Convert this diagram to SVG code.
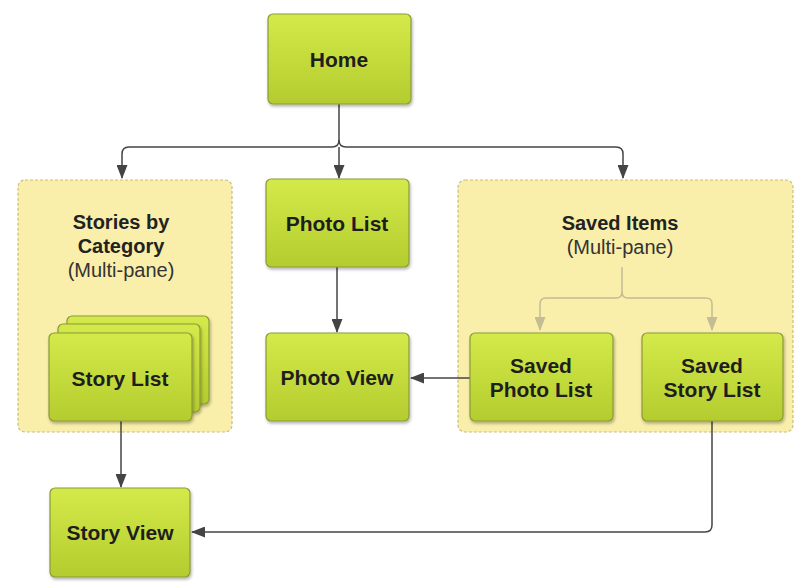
<svg xmlns="http://www.w3.org/2000/svg" width="810" height="585" viewBox="0 0 810 585">
<defs>
<linearGradient id="g" x1="0" y1="0" x2="0" y2="1">
<stop offset="0" stop-color="#d4ea4a"/>
<stop offset="1" stop-color="#b4cc2e"/>
</linearGradient>
<filter id="sh" x="-10%" y="-10%" width="125%" height="130%">
<feDropShadow dx="1" dy="2" stdDeviation="1.5" flood-color="#000" flood-opacity="0.3"/>
</filter>
<marker id="ah" markerWidth="14" markerHeight="11" refX="13" refY="5.5" orient="auto" markerUnits="userSpaceOnUse">
<path d="M0,0 L14,5.5 L0,11 Z" fill="#444"/>
</marker>
<marker id="ahl" markerWidth="14" markerHeight="11" refX="13" refY="5.5" orient="auto" markerUnits="userSpaceOnUse">
<path d="M0,0 L14,5.5 L0,11 Z" fill="#c4bc94"/>
</marker>
<style>
.node{fill:url(#g);stroke:#8a9a3a;stroke-width:1.2;filter:url(#sh)}
.grp{fill:#f9eeaa;stroke:#c9bd80;stroke-width:1.2;stroke-dasharray:3 2}
.lbl{font-family:"Liberation Sans",Arial,sans-serif;font-weight:bold;font-size:21px;fill:#1e1e1e;text-anchor:middle}
.gt{font-family:"Liberation Sans",Arial,sans-serif;font-weight:bold;font-size:20px;fill:#222;text-anchor:middle}
.gs{font-family:"Liberation Sans",Arial,sans-serif;font-size:20px;fill:#333;text-anchor:middle}
.c{fill:none;stroke:#444;stroke-width:1.5}
.cl{fill:none;stroke:#c4bc94;stroke-width:1.5}
</style>
</defs>

<g id="group-stories">
<rect class="grp" x="18" y="180" width="214" height="252" rx="7"/>
<text class="gt" x="121" y="229">Stories by</text>
<text class="gt" x="121" y="253">Category</text>
<text class="gs" x="121" y="277">(Multi-pane)</text>
</g>

<g id="group-saved">
<rect class="grp" x="458" y="180" width="335" height="252" rx="7"/>
<text class="gt" x="620" y="230">Saved Items</text>
<text class="gs" x="620" y="254">(Multi-pane)</text>
</g>

<g id="connectors">
<path class="c" d="M339,104 V140 Q339,147 332,147 H129 Q122,147 122,154 V178" marker-end="url(#ah)"/>
<path class="c" d="M339,140 Q339,147 346,147 H616 Q623,147 623,154 V178" marker-end="url(#ah)"/>
<path class="c" d="M339,147 V178" marker-end="url(#ah)"/>
<path class="c" d="M337,267 V332" marker-end="url(#ah)"/>
<path class="c" d="M470,378 H411" marker-end="url(#ah)"/>
<path class="c" d="M121,421 V487" marker-end="url(#ah)"/>
<path class="c" d="M712,421 V525 Q712,532 705,532 H192" marker-end="url(#ah)"/>
<path class="cl" d="M622,267 V292 Q622,298 616,298 H546 Q540,298 540,304 V330" marker-end="url(#ahl)"/>
<path class="cl" d="M622,292 Q622,298 628,298 H706 Q712,298 712,304 V330" marker-end="url(#ahl)"/>
</g>

<g id="home">
<rect class="node" x="268" y="14" width="143" height="90" rx="5"/>
<text class="lbl" x="339" y="67">Home</text>
</g>

<g id="photo-list">
<rect class="node" x="266" y="179" width="143" height="88" rx="5"/>
<text class="lbl" x="337" y="231">Photo List</text>
</g>

<g id="photo-view">
<rect class="node" x="266" y="333" width="143" height="88" rx="5"/>
<text class="lbl" x="337" y="385">Photo View</text>
</g>

<g id="story-list">
<rect class="node" x="67" y="316" width="142" height="88" rx="5"/>
<rect class="node" x="58" y="324" width="142" height="88" rx="5"/>
<rect class="node" x="49" y="333" width="143" height="88" rx="5"/>
<text class="lbl" x="120" y="386">Story List</text>
</g>

<g id="story-view">
<rect class="node" x="50" y="488" width="140" height="89" rx="5"/>
<text class="lbl" x="120" y="540">Story View</text>
</g>

<g id="saved-photo-list">
<rect class="node" x="470" y="333" width="143" height="88" rx="5"/>
<text class="lbl" x="541" y="373">Saved</text>
<text class="lbl" x="541" y="397">Photo List</text>
</g>

<g id="saved-story-list">
<rect class="node" x="642" y="333" width="141" height="88" rx="5"/>
<text class="lbl" x="712" y="373">Saved</text>
<text class="lbl" x="712" y="397">Story List</text>
</g>
</svg>
